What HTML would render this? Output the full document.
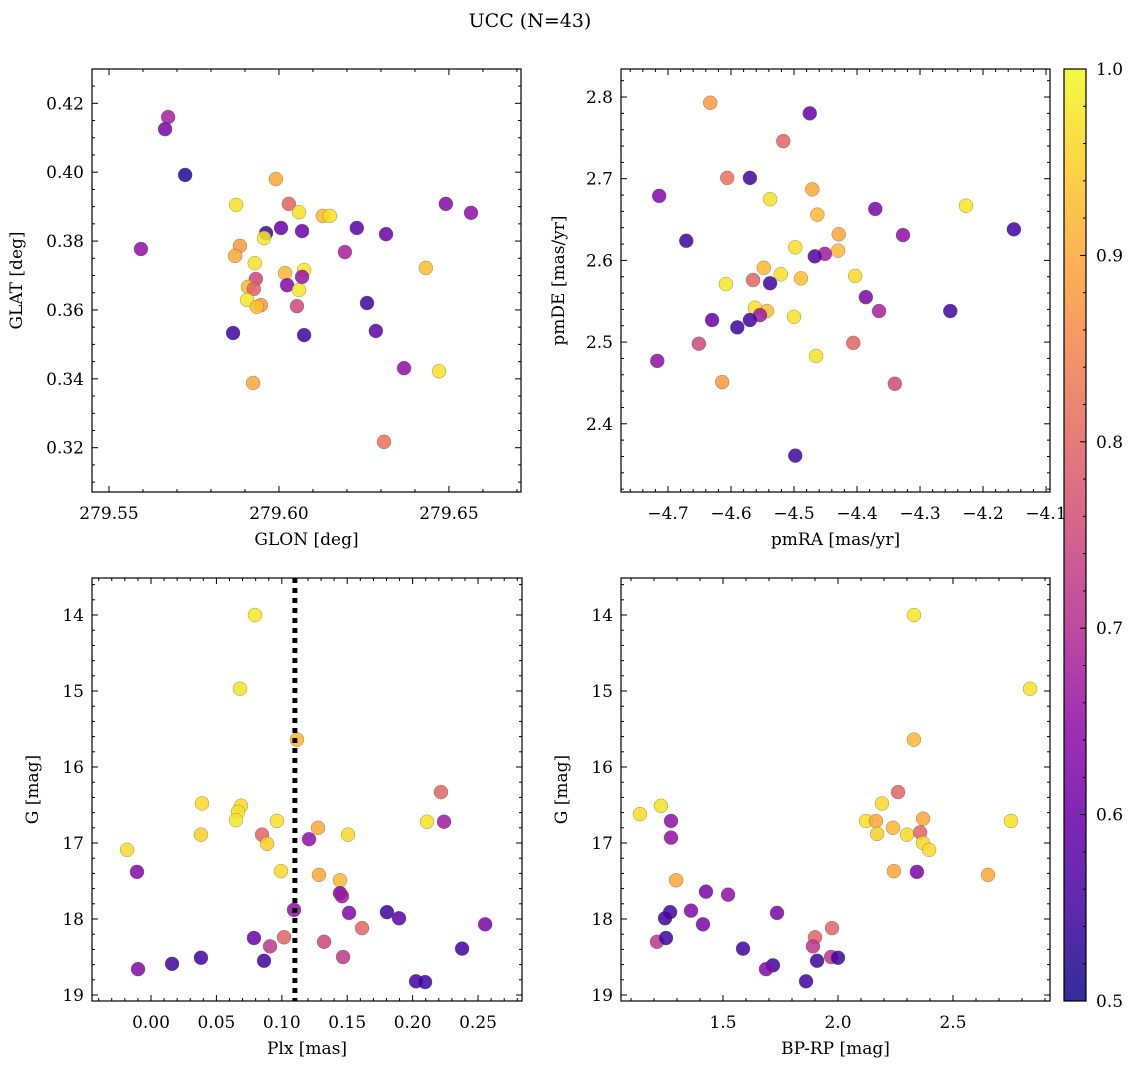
<!DOCTYPE html>
<html><head><meta charset="utf-8">
<style>
body{margin:0;background:#fff;}
svg{display:block;font-family:"DejaVu Serif","Liberation Serif",serif;}
</style></head>
<body>
<svg id="fig" width="1136" height="1068" viewBox="0 0 1136 1068">
<text x="530" y="27" font-size="19" text-anchor="middle">UCC (N=43)</text>
</svg>
<script>
// ---- data ----
const glon=[279.5674,279.5665,279.5724,279.5594,279.5874,279.5885,279.5871,279.5962,279.6006,279.5991,279.6029,279.6059,279.6068,279.6129,279.6150,279.6229,279.5956,279.5929,279.5932,279.6018,279.6024,279.6074,279.6059,279.6068,279.5909,279.5926,279.5906,279.5947,279.5935,279.6053,279.5865,279.6074,279.6194,279.6259,279.6285,279.6315,279.5924,279.6368,279.6432,279.6471,279.6491,279.6565,279.6309];
const glat=[0.4160,0.4125,0.3992,0.3777,0.3905,0.3786,0.3757,0.3823,0.3838,0.3980,0.3908,0.3884,0.3829,0.3873,0.3873,0.3838,0.3809,0.3736,0.3690,0.3707,0.3672,0.3716,0.3658,0.3696,0.3667,0.3661,0.3629,0.3614,0.3609,0.3611,0.3533,0.3527,0.3768,0.3620,0.3539,0.3820,0.3388,0.3431,0.3722,0.3422,0.3908,0.3882,0.3217];
const probPos=[0.68,0.62,0.52,0.65,0.97,0.88,0.9,0.55,0.6,0.9,0.8,0.97,0.6,0.92,0.97,0.58,0.98,0.97,0.75,0.92,0.63,0.98,0.98,0.66,0.92,0.8,0.98,0.88,0.93,0.75,0.55,0.55,0.68,0.55,0.58,0.6,0.9,0.65,0.93,0.97,0.63,0.65,0.82];
const pmRA=[-4.633,-4.475,-4.517,-4.714,-4.606,-4.570,-4.538,-4.471,-4.463,-4.371,-4.227,-4.327,-4.151,-4.671,-4.498,-4.429,-4.430,-4.451,-4.467,-4.608,-4.548,-4.521,-4.489,-4.403,-4.565,-4.538,-4.386,-4.562,-4.543,-4.554,-4.570,-4.500,-4.630,-4.590,-4.365,-4.252,-4.651,-4.406,-4.717,-4.465,-4.614,-4.340,-4.498];
const pmDE=[2.793,2.780,2.746,2.679,2.701,2.701,2.675,2.687,2.656,2.663,2.667,2.631,2.638,2.624,2.616,2.632,2.612,2.608,2.605,2.571,2.591,2.583,2.578,2.581,2.576,2.572,2.555,2.542,2.538,2.533,2.527,2.531,2.527,2.518,2.538,2.538,2.498,2.499,2.477,2.483,2.451,2.449,2.361];
const probPm=[0.88,0.6,0.8,0.63,0.82,0.55,0.97,0.9,0.92,0.62,0.98,0.65,0.55,0.55,0.97,0.9,0.92,0.67,0.57,0.98,0.92,0.97,0.93,0.96,0.8,0.55,0.62,0.97,0.93,0.67,0.55,0.97,0.6,0.55,0.68,0.55,0.75,0.8,0.65,0.97,0.88,0.75,0.55];
const plx=[0.0795,0.0680,0.1116,0.2217,0.0390,0.0688,0.0665,0.0650,0.0849,0.0963,0.1277,0.1506,0.1208,0.0382,-0.0183,0.2240,0.2110,0.0887,0.0994,0.1284,0.1445,0.1445,0.1460,-0.0107,0.1514,0.1804,0.1896,0.1093,0.1613,0.2554,0.0787,0.1017,0.1323,0.0910,0.0864,0.0382,0.1468,0.2378,0.0161,-0.0099,0.2026,0.2095];
const gPlx=[14.00,14.97,15.64,16.33,16.48,16.51,16.59,16.70,16.89,16.71,16.80,16.89,16.95,16.89,17.09,16.72,16.72,17.01,17.37,17.42,17.49,17.66,17.70,17.38,17.92,17.91,17.99,17.88,18.12,18.07,18.25,18.24,18.30,18.36,18.55,18.51,18.50,18.39,18.59,18.66,18.82,18.83];
const probPlx=[0.98,0.97,0.92,0.8,0.96,0.96,0.97,0.98,0.8,0.97,0.9,0.96,0.65,0.95,0.96,0.67,0.97,0.95,0.96,0.9,0.92,0.62,0.67,0.63,0.63,0.55,0.58,0.65,0.8,0.62,0.6,0.8,0.75,0.72,0.55,0.55,0.72,0.55,0.55,0.63,0.55,0.55];
const bprp=[2.330,2.835,2.330,2.261,2.191,1.139,1.230,1.274,2.122,2.165,2.752,2.170,2.239,2.300,2.357,2.370,2.370,2.396,1.274,2.243,2.652,2.343,1.296,1.426,1.522,1.735,1.270,1.248,1.361,1.413,1.974,1.213,1.252,1.900,1.891,1.587,1.970,2.000,1.909,1.717,1.687,1.861];
const gCmd=[14.00,14.97,15.64,16.33,16.48,16.62,16.51,16.71,16.71,16.71,16.71,16.88,16.80,16.89,16.86,16.68,17.00,17.09,16.93,17.37,17.42,17.38,17.49,17.64,17.68,17.92,17.91,17.99,17.89,18.07,18.12,18.30,18.25,18.24,18.36,18.39,18.50,18.51,18.55,18.61,18.66,18.82];
const probCmd=[0.98,0.97,0.92,0.8,0.96,0.96,0.97,0.65,0.97,0.9,0.97,0.95,0.92,0.96,0.8,0.9,0.96,0.96,0.65,0.9,0.9,0.62,0.9,0.62,0.65,0.62,0.55,0.55,0.63,0.62,0.8,0.72,0.55,0.8,0.72,0.55,0.72,0.55,0.55,0.55,0.63,0.55];
const plxLine=[0.110];
const cbTicks=[0.5,0.6,0.7,0.8,0.9,1.0];
const cbLabels=["0.5","0.6","0.7","0.8","0.9","1.0"];

// ---- helpers ----
const NS="http://www.w3.org/2000/svg";
const svg=document.getElementById('fig');
function mk(tag,attrs,parent){const e=document.createElementNS(NS,tag);for(const k in attrs)e.setAttribute(k,attrs[k]);(parent||svg).appendChild(e);return e;}
const PL=[[0,'#0d0887'],[0.1,'#41049d'],[0.2,'#6a00a8'],[0.3,'#8f0da4'],[0.4,'#b12a90'],[0.5,'#cc4778'],[0.6,'#e16462'],[0.7,'#f2844b'],[0.8,'#fca636'],[0.9,'#fcce25'],[1,'#f0f921']];
function hex(h){return [1,3,5].map(i=>parseInt(h.substr(i,2),16));}
function plasma(t){t=Math.max(0,Math.min(1,t));for(let i=0;i<PL.length-1;i++){if(t<=PL[i+1][0]){const f=(t-PL[i][0])/(PL[i+1][0]-PL[i][0]);const a=hex(PL[i][1]),b=hex(PL[i+1][1]);return 'rgb('+a.map((v,j)=>Math.round(v+(b[j]-v)*f)).join(',')+')';}}return PL[PL.length-1][1];}
function cmap(p){return plasma((p-0.5)/0.5);}
function fmtTick(v,d){return v.toFixed(d).replace('-','\u2212');}

function panel(cfg){
  const {name,L,R,T,B,xd,yd,xt,xd2,xm,yt,yd2,ym,xlabel,ylabel,ylx,xover}=cfg;
  const g=mk('g',{});
  
  
  const sx=v=>L+(v-xd[0])/(xd[1]-xd[0])*(R-L);
  const sy=v=>T+(v-yd[0])/(yd[1]-yd[0])*(B-T);
  const eps=1e-9;
  const tg=mk('g',{stroke:'#000','stroke-width':1},g);
  
  
  const xlo=Math.min(...xd),xhi=Math.max(...xd),ylo=Math.min(...yd),yhi=Math.max(...yd);
  for(let v=Math.ceil(xlo/xm)*xm;v<=xhi+eps;v+=xm){const x=sx(v);const major=Math.abs(v/xt-Math.round(v/xt))<1e-6;const l=major?6:3;
    mk('line',{x1:x,x2:x,y1:B,y2:B-l},tg);mk('line',{x1:x,x2:x,y1:T,y2:T+l},tg);}
  for(let v=Math.ceil(ylo/ym)*ym;v<=yhi+eps;v+=ym){const y=sy(v);const major=Math.abs(v/yt-Math.round(v/yt))<1e-6;const l=major?6:3;
    mk('line',{x1:L,x2:L+l,y1:y,y2:y},tg);mk('line',{x1:R,x2:R-l,y1:y,y2:y},tg);}
  for(let v=Math.ceil(xlo/xt-eps)*xt;v<=xhi+(xover||0);v+=xt){const x=sx(v);
    const t=mk('text',{x:x,y:B+27,'font-size':17,'text-anchor':'middle'},g);t.textContent=fmtTick(v,xd2);
    }
  for(let v=Math.ceil(ylo/yt-eps)*yt;v<=yhi+eps;v+=yt){const y=sy(v);
    const t=mk('text',{x:L-8,y:y+6,'font-size':17,'text-anchor':'end'},g);t.textContent=fmtTick(v,yd2);
    }
  const xl=mk('text',{x:(L+R)/2,y:B+53,'font-size':17,'text-anchor':'middle'},g);xl.textContent=xlabel;
  
  const yl=mk('text',{x:ylx,y:(T+B)/2,'font-size':17,'text-anchor':'middle',transform:`rotate(-90 ${ylx} ${(T+B)/2})`},g);yl.textContent=ylabel;
  
  return {g,sx,sy,frame:()=>{const f=mk('rect',{x:L,y:T,width:R-L,height:B-T,fill:'none',stroke:'#000','stroke-width':1.2},g);}};
}
function scatter(p,xs,ys,cs){
  const pg=mk('g',{},p.g);
  
  
  for(let i=0;i<xs.length;i++){
    const c=mk('circle',{cx:p.sx(xs[i]),cy:p.sy(ys[i]),r:7,fill:cmap(cs[i]),'fill-opacity':0.85,stroke:'#555','stroke-width':0.5,'stroke-opacity':0.6},pg);
    
    
  }
}

const p1=panel({name:'glon-glat-panel',L:92,R:521,T:69,B:492,xd:[279.545,279.6712],yd:[0.42996,0.30714],xt:0.05,xd2:2,xm:0.01,yt:0.02,yd2:2,ym:0.005,xlabel:'GLON [deg]',ylabel:'GLAT [deg]',ylx:22});
scatter(p1,glon,glat,probPos);p1.frame();
const p2=panel({name:'proper-motion-panel',L:621,R:1050,T:69,B:492,xd:[-4.7746,-4.0937],yd:[2.8343,2.3165],xt:0.1,xd2:1,xm:0.02,yt:0.1,yd2:1,ym:0.02,xlabel:'pmRA [mas/yr]',ylabel:'pmDE [mas/yr]',ylx:564,xover:0.01});
scatter(p2,pmRA,pmDE,probPm);p2.frame();
const p3=panel({name:'plx-g-panel',L:92,R:522,T:578,B:1001,xd:[-0.0451,0.2836],yd:[13.513,19.079],xt:0.05,xd2:2,xm:0.01,yt:1,yd2:0,ym:0.2,xlabel:'Plx [mas]',ylabel:'G [mag]',ylx:38});
scatter(p3,plx,gPlx,probPlx);
plxLine.forEach(v=>{const l=mk('line',{x1:p3.sx(v),x2:p3.sx(v),y1:578,y2:1001,stroke:'#000','stroke-width':5,'stroke-dasharray':'5 5'},p3.g);
  });
p3.frame();
const p4=panel({name:'cmd-panel',L:621,R:1050,T:578,B:1001,xd:[1.0565,2.9217],yd:[13.513,19.079],xt:0.5,xd2:1,xm:0.1,yt:1,yd2:0,ym:0.2,xlabel:'BP-RP [mag]',ylabel:'G [mag]',ylx:567});
scatter(p4,bprp,gCmd,probCmd);p4.frame();

// colorbar
const cb=mk('g',{});


const defs=mk('defs',{},cb);
const grad=mk('linearGradient',{id:'pg',x1:0,y1:1,x2:0,y2:0},defs);
PL.forEach(s=>mk('stop',{offset:s[0],'stop-color':s[1],'stop-opacity':0.85},grad));
const CT=69,CB=1001,CL=1064,CR=1086;
mk('rect',{x:CL,y:CT,width:CR-CL,height:CB-CT,fill:'#fff'},cb);
mk('rect',{x:CL,y:CT,width:CR-CL,height:CB-CT,fill:'url(#pg)',stroke:'#000','stroke-width':1.2},cb);
const cy=v=>CB-(v-0.5)/0.5*(CB-CT);
for(let v=0.5;v<=1.0001;v+=0.02){const y=cy(v);const major=Math.abs(v*10-Math.round(v*10))<1e-6;mk('line',{x1:CR,x2:CR-(major?6:3),y1:y,y2:y,stroke:'#000'},cb);}
cbTicks.forEach((v,i)=>{const t=mk('text',{x:CR+10,y:cy(v)+6,'font-size':17},cb);t.textContent=cbLabels[i];
  });
</script>
</body></html>
